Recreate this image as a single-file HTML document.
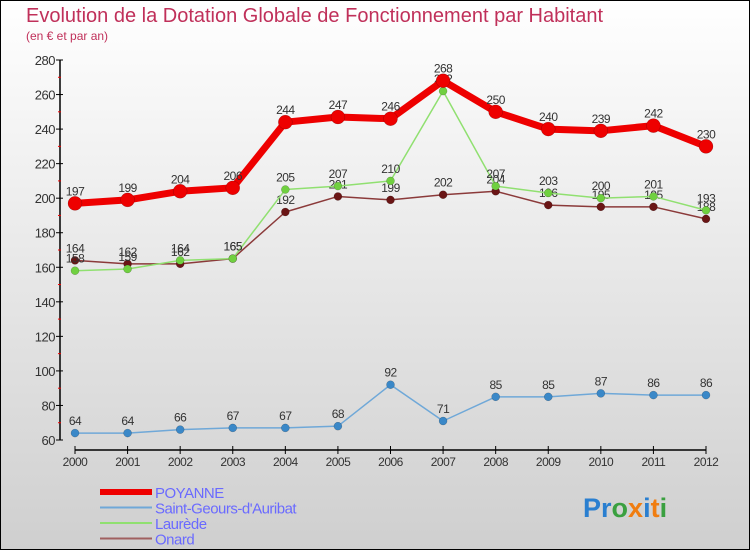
<!DOCTYPE html>
<html><head><meta charset="utf-8"><style>
html,body{margin:0;padding:0}
body{width:750px;height:550px;overflow:hidden;font-family:"Liberation Sans",sans-serif}
</style></head><body>
<svg width="750" height="550" xmlns="http://www.w3.org/2000/svg">
<defs><linearGradient id="bg" x1="0" y1="0" x2="0" y2="1"><stop offset="0" stop-color="#ffffff"/><stop offset="1" stop-color="#cfcfcf"/></linearGradient></defs>
<rect x="0.5" y="0.5" width="749" height="549" fill="url(#bg)" stroke="#000"/>
<text x="26" y="22" font-size="20" fill="#c0305a">Evolution de la Dotation Globale de Fonctionnement par Habitant</text>
<text x="26" y="40" font-size="12" fill="#c0305a">(en € et par an)</text>
<g id="axes"></g>
<g id="series"></g>
<g id="legend"></g>
<text x="583" y="517" font-size="27" font-weight="bold"><tspan fill="#2a7fd0">Pr</tspan><tspan fill="#3aa040">o</tspan><tspan fill="#f07d10">x</tspan><tspan fill="#2a7fd0">i</tspan><tspan fill="#f07d10">t</tspan><tspan fill="#3aa040">i</tspan></text>
</svg>
<script>
const years=[2000,2001,2002,2003,2004,2005,2006,2007,2008,2009,2010,2011,2012];
const yTicks=[60,80,100,120,140,160,180,200,220,240,260,280];
const poyanne=[197,199,204,206,244,247,246,268,250,240,239,242,230];
const saintGeours=[64,64,66,67,67,68,92,71,85,85,87,86,86];
const laurede=[158,159,164,165,205,207,210,262,207,203,200,201,193];
const onard=[164,162,162,165,192,201,199,202,204,196,195,195,188];
const NS="http://www.w3.org/2000/svg";
function xs(i){return 75+i*(706-75)/12;}
function ys(v){return 440-(v-60)*380/220;}
function mk(tag,attrs,parent){const e=document.createElementNS(NS,tag);for(const k in attrs)e.setAttribute(k,attrs[k]);parent.appendChild(e);return e;}
const axes=document.getElementById('axes');
let yl=mk('line',{x1:60,y1:60,x2:60,y2:440,stroke:'#000','stroke-width':1.5},axes);


let xl=mk('line',{x1:75,y1:450,x2:706,y2:450,stroke:'#000','stroke-width':1.5},axes);


yTicks.forEach((t,i)=>{
 mk('line',{x1:56,y1:ys(t),x2:63,y2:ys(t),stroke:'#000'},axes);
 if(i<yTicks.length-1)mk('line',{x1:58,y1:ys(t+10),x2:61,y2:ys(t+10),stroke:'#e00'},axes);
 const tx=mk('text',{x:55,y:ys(t)+5,'text-anchor':'end','font-size':13,fill:'#333','letter-spacing':'-0.5'},axes);
 tx.textContent=t;
 
 
});
years.forEach((y,i)=>{
 mk('line',{x1:xs(i),y1:446,x2:xs(i),y2:454,stroke:'#000'},axes);
 const tx=mk('text',{x:xs(i),y:466,'text-anchor':'middle','font-size':12,fill:'#333','letter-spacing':'-0.5'},axes);
 tx.textContent=y;
 
 
});
const sg=document.getElementById('series');
function draw(vals,color,w,r,dot,name){
 const g=mk('g',{},sg);
 
 
 const p=mk('polyline',{points:vals.map((v,i)=>xs(i)+','+ys(v)).join(' '),fill:'none',stroke:color,'stroke-width':w,'stroke-linejoin':'round'},g);
 
 
 vals.forEach((v,i)=>{
  const c=mk('circle',{cx:xs(i),cy:ys(v),r:r,fill:dot,stroke:'rgba(0,0,0,0.3)','stroke-width':0.5},g);
  
  
  const t=mk('text',{x:xs(i),y:ys(v)-8,'text-anchor':'middle','font-size':12,fill:'#333','letter-spacing':'-0.5'},g);
  t.textContent=v;
  
  
 });
}
draw(saintGeours,'#6fa8d8',1.5,4,'#3a88c8','saint-geours');
draw(onard,'#8b3a3a',1.5,4,'#6a1515','onard');
draw(laurede,'#90e070',1.5,4,'#70d040','laurede');
draw(poyanne,'#ee0000',7,7,'#ee0000','poyanne');
const lg=document.getElementById('legend');
const items=[['POYANNE','#ee0000',6],['Saint-Geours-d\'Auribat','#6fa8d8',2],['Laurède','#90e070',2],['Onard','#a06060',2]];
items.forEach((it,i)=>{
 const y=492+i*15.5;
 const l=mk('line',{x1:100,y1:y,x2:152,y2:y,stroke:it[1],'stroke-width':it[2]},lg);
 
 
 const t=mk('text',{x:155,y:y+6,'font-size':15,fill:'#6a6aff','letter-spacing':'-0.5'},lg);
 t.textContent=it[0];
 
 
});
</script>
</body></html>
